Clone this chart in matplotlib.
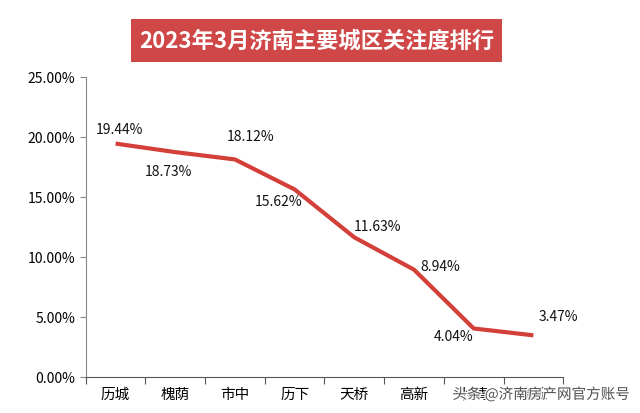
import matplotlib.pyplot as plt
from matplotlib.patches import FancyBboxPatch
import matplotlib.patheffects as pe

plt.rcParams['font.family'] = ['Noto Sans CJK SC', 'DejaVu Sans']

# District names and attention share (%)
districts = ["历城", "槐荫", "市中", "历下", "天桥", "高新", "长清", "章丘"]
shares = [19.44, 18.73, 18.12, 15.62, 11.63, 8.94, 4.04, 3.47]
value_labels = ["19.44%", "18.73%", "18.12%", "15.62%", "11.63%", "8.94%", "4.04%", "3.47%"]
yticks = [0, 5, 10, 15, 20, 25]
ytick_labels = ["0.00%", "5.00%", "10.00%", "15.00%", "20.00%", "25.00%"]

# label offsets in pixels
offsets = [(4, 15), (-7, -19), (16, 23), (-16, -12), (23, 11), (26, 4), (-20, -8), (25, 19)]

fig = plt.figure(figsize=(6.4, 4.14), dpi=100)
ax = fig.add_axes([0.134, 0.087, 0.746, 0.725])

x = list(range(len(districts)))
ax.plot(x, shares, color="#d3403a", linewidth=3, solid_capstyle="butt")

for xi, yi, lab, (dx, dy) in zip(x, shares, value_labels, offsets):
    ax.annotate(lab, (xi, yi), xytext=(dx, dy), textcoords="offset pixels",
                ha="center", va="center", fontsize=10, color="#111111")

ax.set_xlim(-0.5, len(districts) - 0.5)
ax.set_ylim(0, 25)
ax.set_yticks(yticks)
ax.set_yticklabels(ytick_labels, fontsize=10)
ax.set_xticks([i - 0.5 for i in range(len(districts) + 1)])
ax.set_xticklabels([])
ax.set_xticks(x, minor=True)
ax.set_xticklabels(districts, minor=True, fontsize=10.5)
ax.tick_params(axis="x", which="minor", length=0, pad=7)
ax.tick_params(axis="x", which="major", length=5, color="#555555", direction="out")
ax.tick_params(axis="y", length=4, color="#888888")

for s in ["top", "right"]:
    ax.spines[s].set_visible(False)
ax.spines["left"].set_color("#888888")
ax.spines["bottom"].set_color("#555555")

# title box
box = FancyBboxPatch((0.205, 0.848), 0.58, 0.104, boxstyle="square,pad=0",
                     transform=fig.transFigure, facecolor="#d04747",
                     edgecolor="none")
fig.patches.append(box)
fig.text(0.495, 0.9, "2023年3月济南主要城区关注度排行", ha="center", va="center",
         fontsize=16, fontweight="bold", color="white")

# watermark text
fig.text(0.985, 0.045, "头条 @济南房产网官方账号", ha="right", va="center",
         fontsize=10.5, color="#444444", alpha=0.9,
         path_effects=[pe.withStroke(linewidth=2, foreground="white")])

fig.savefig("out.png", dpi=100)
